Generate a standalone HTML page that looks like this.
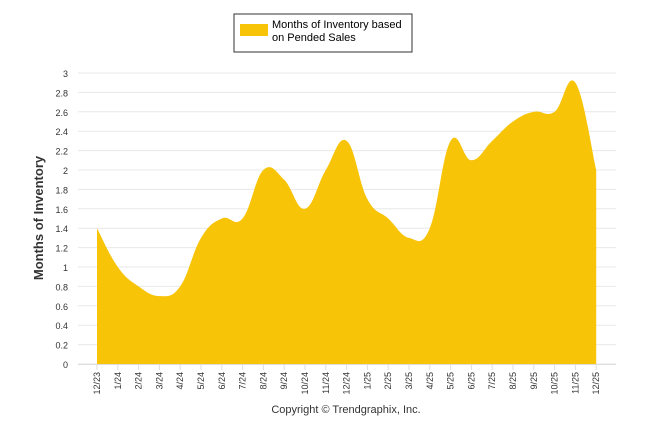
<!DOCTYPE html>
<html><head><meta charset="utf-8"><style>
body{margin:0;background:#fff;}
svg{display:block;font-family:"Liberation Sans",sans-serif;}
</style></head><body>
<svg id="c" width="646" height="434">
<g>
<rect x="234" y="14" width="178" height="38" fill="#fff" stroke="#333" stroke-width="1"/>
<rect x="237" y="17" width="178" height="38" fill="none" stroke="#ccc" stroke-width="1" opacity="0"/>
<rect x="240" y="24" width="28" height="12" fill="#f7c408"/>
<text x="272" y="28" font-size="11" fill="#000">Months of Inventory based</text>
<text x="272" y="41" font-size="11" fill="#000">on Pended Sales</text>
</g>
<text transform="translate(43,218) rotate(-90)" text-anchor="middle" font-size="13" font-weight="bold" fill="#333">Months of Inventory</text>
<g id="grid"></g><g id="area"></g><g id="axes"></g>
<text x="346" y="413" text-anchor="middle" font-size="11" fill="#333">Copyright © Trendgraphix, Inc.</text>
</svg>
<script>
const categories=["12/23","1/24","2/24","3/24","4/24","5/24","6/24","7/24","8/24","9/24","10/24","11/24","12/24","1/25","2/25","3/25","4/25","5/25","6/25","7/25","8/25","9/25","10/25","11/25","12/25"];
const values=[1.4,1.0,0.8,0.7,0.8,1.3,1.5,1.5,2.0,1.9,1.6,2.0,2.3,1.7,1.5,1.3,1.4,2.3,2.1,2.3,2.5,2.6,2.6,2.9,2.0];
const yTicks=[0,0.2,0.4,0.6,0.8,1,1.2,1.4,1.6,1.8,2,2.2,2.4,2.6,2.8,3];
const NS="http://www.w3.org/2000/svg";
const x0=97,dx=20.8,y0=364,ky=97;
const X=i=>x0+i*dx, Y=v=>y0-v*ky;
function mk(t,a,p){const e=document.createElementNS(NS,t);for(const k in a)e.setAttribute(k,a[k]);p.appendChild(e);return e;}
const grid=document.getElementById('grid'),axes=document.getElementById('axes'),area=document.getElementById('area');
yTicks.forEach(t=>{
 const l=mk('line',{x1:78,x2:616,y1:Y(t),y2:Y(t),stroke:'#e8e8e8','stroke-width':1},grid);
 
 
 const tx=mk('text',{x:68,y:Y(t)+4,'text-anchor':'end','font-size':9,fill:'#333'},axes);
 tx.textContent=String(t);
 
 
});
// smooth path (cardinal spline)
const pts=values.map((v,i)=>[X(i),Y(v)]);
let d=`M${pts[0][0]},${y0}L${pts[0][0]},${pts[0][1]}`;
const tt=0.2;
for(let i=0;i<pts.length-1;i++){
 const p0=pts[Math.max(i-1,0)],p1=pts[i],p2=pts[i+1],p3=pts[Math.min(i+2,pts.length-1)];
 const c1=[p1[0]+(p2[0]-p0[0])*tt,p1[1]+(p2[1]-p0[1])*tt];
 const c2=[p2[0]-(p3[0]-p1[0])*tt,p2[1]-(p3[1]-p1[1])*tt];
 d+=`C${c1[0]},${c1[1]} ${c2[0]},${c2[1]} ${p2[0]},${p2[1]}`;
}
d+=`L${pts[pts.length-1][0]},${y0}Z`;
const ar=mk('path',{d:d,fill:'#f7c408'},area);


const ax=mk('line',{x1:78,x2:616,y1:y0+0.5,y2:y0+0.5,stroke:'#ddd'},axes);


categories.forEach((c,i)=>{
 const tk=mk('line',{x1:X(i),x2:X(i),y1:y0,y2:y0+6,stroke:'#ddd'},axes);
 
 
 const t=mk('text',{transform:`translate(${X(i)+3},${y0+8}) rotate(-90)`,'text-anchor':'end','font-size':9,fill:'#333'},axes);
 t.textContent=c;
 
 
});
mk('line',{x1:78-20.8,x2:78-20.8,y1:0,y2:0},axes);
</script>
</body></html>
